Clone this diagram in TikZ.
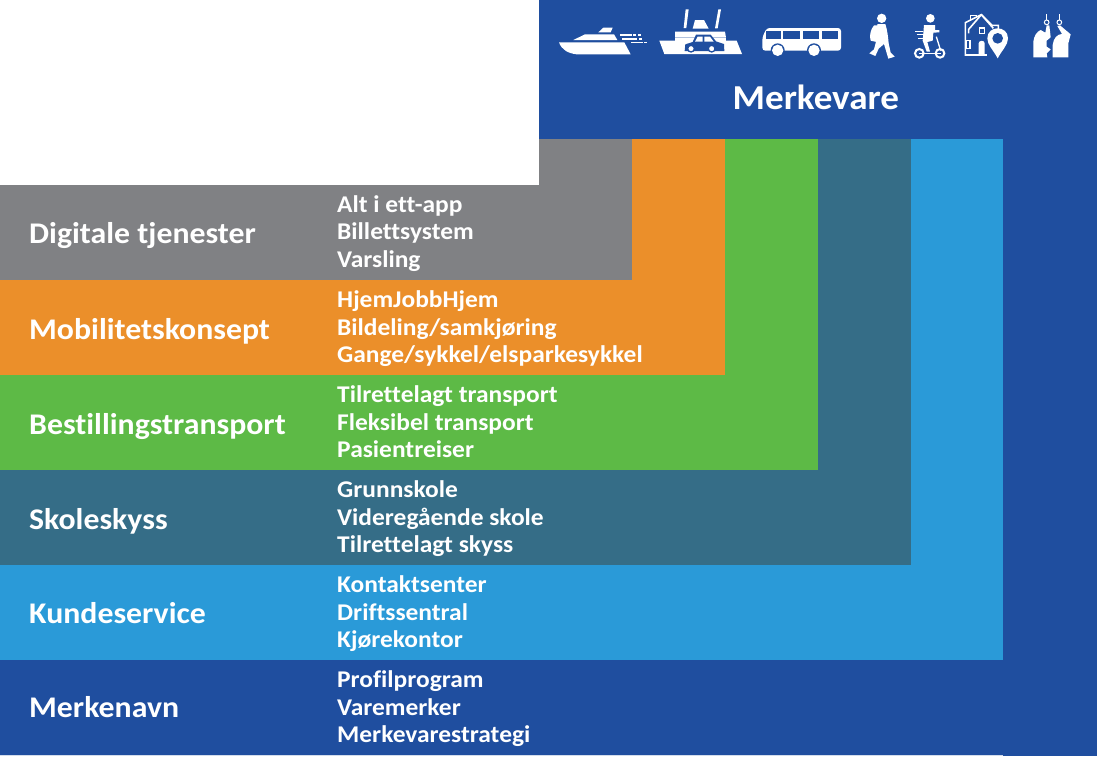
\documentclass[tikz,border=0pt]{standalone}
\usepackage{fontspec}
\setmainfont{Carlito}[Ligatures=NoCommon,FakeStretch=1.06]
\definecolor{navy}{HTML}{1F4E9F}
\definecolor{lblue}{HTML}{2A9AD8}
\definecolor{teal2}{HTML}{356D87}
\definecolor{green2}{HTML}{5DBA46}
\definecolor{orange2}{HTML}{EB8F2A}
\definecolor{gray2}{HTML}{808184}
\tikzset{
  title/.style={text=white,anchor=base west,inner sep=0,yshift=-0.7pt,font=\fontsize{30}{30}\selectfont\bfseries},
  item/.style={text=white,anchor=base west,inner sep=0,yshift=-0.7pt,font=\fontsize{24}{24}\selectfont\bfseries},
  ic/.style={fill=white,draw=none},
  il/.style={draw=white,fill=none},
  cut/.style={fill=navy,draw=none}
}
\begin{document}
\begin{tikzpicture}[x=1pt,y=-1pt]
\useasboundingbox (0,0) rectangle (1097,756);
\fill[navy] (539,0) rectangle (1097,756);
\fill[navy] (0,660) rectangle (1097,755);
\fill[lblue] (539,139) rectangle (1003,660);
\fill[lblue] (0,565) rectangle (1003,660);
\fill[teal2] (539,139) rectangle (911,565);
\fill[teal2] (0,470) rectangle (911,565);
\fill[green2] (539,139) rectangle (818,470);
\fill[green2] (0,375) rectangle (818,470);
\fill[orange2] (539,139) rectangle (725,375);
\fill[orange2] (0,280) rectangle (725,375);
\fill[gray2] (539,139) rectangle (632,280);
\fill[gray2] (0,185) rectangle (632,280);
\fill[white!80!navy] (0,755) rectangle (1003,756);

% boat, ferry, bus: typed in coordinates of the 3x crop at x=540
\begin{scope}[shift={(540,0)},scale=1/3]
\fill[ic] (57,127) -- (253,127) -- (272,163) -- (110,163) .. controls (85,160) and (65,150) .. cycle;
\fill[ic] (100,120) -- (135,103) -- (222,103) -- (232,120) -- cycle;
\fill[ic] (175,97) -- (190,83) -- (218,83) -- (212,97) -- cycle;
\foreach \a/\b/\c in {240/275/105,280/288/105,293/302/105,245/290/117,296/306/117,272/308/128,312/322/128}
  \fill[ic] (\a,\c-2) rectangle (\b,\c+2);
% ferry
\fill[ic] (437,28) -- (446,28) -- (439,84) -- (431,84) -- cycle;
\fill[ic] (535,28) -- (543,28) -- (533,85) -- (525,85) -- cycle;
\fill[ic] (465,60) -- (492,60) -- (506,86) -- (458,86) -- cycle;
\fill[ic] (405,95) -- (555,95) -- (558,113) -- (405,113) -- cycle;
\fill[ic] (358,122) -- (590,122) -- (606,162) -- (373,162) -- cycle;
\fill[ic] (405,113) rectangle (558,122);
\fill[cut] (434,153) -- (436,133) -- (458,126) -- (468,104) -- (512,104) -- (528,124) -- (552,132) -- (553,153) -- cycle;
\fill[ic] (473,110) -- (488,110) -- (488,125) -- (465,125) -- cycle;
\fill[ic] (493,110) -- (510,110) -- (521,125) -- (493,125) -- cycle;
\fill[ic,draw=navy,line width=1.3pt] (453,146) circle (10);
\fill[ic,draw=navy,line width=1.3pt] (515,146) circle (10);
% bus
\fill[ic,rounded corners=3pt] (667,152) -- (667,112) -- (680,84) -- (903,84) -- (903,152) -- cycle;
\fill[cut] (678,92) rectangle (722,117);
\fill[cut] (730,92) rectangle (780,117);
\fill[cut] (788,92) rectangle (838,117);
\fill[cut] (846,92) rectangle (893,117);
\fill[cut] (713,151) circle (21);
\fill[cut] (822,151) circle (21);
\fill[ic] (713,151) circle (17);
\fill[ic] (822,151) circle (17);
\end{scope}

% walker, scooter, house, people: crop at x=820
\begin{scope}[shift={(820,0)},scale=1/3]
\fill[ic] (185,55) circle (14);
\fill[ic] (162,76) .. controls (150,90) and (148,110) .. (152,122) -- (170,126) -- (172,76) -- cycle;
\fill[ic] (172,72) -- (196,72) .. controls (202,90) and (204,110) .. (206,130) -- (212,158) -- (224,170) -- (205,176) -- (192,132) -- (176,146) -- (166,168) -- (148,160) -- (162,148) -- (168,125) -- cycle;
% scooter
\fill[ic] (331,55) circle (13);
\fill[ic] (312,75) -- (345,75) -- (345,90) -- (358,90) -- (358,97) -- (340,98) -- (338,122) -- (322,126) -- (330,155) -- (320,155) -- (308,122) -- cycle;
\draw[il,line width=1pt] (285,94) -- (310,94) (290,104) -- (310,104) (295,114) -- (310,114);
\draw[il,line width=1.3pt] (349,110) -- (362,152);
\draw[il,line width=1.5pt] (298,160) -- (362,160);
\draw[il,line width=2pt] (298,160) circle (13);
\draw[il,line width=2pt] (360,160) circle (13);
% house
\draw[il,line width=1.6pt,line join=miter] (520,165) -- (436,165) -- (436,68) -- (484,44) -- (516,76) -- (535,76) -- (535,95);
\draw[il,line width=1.6pt] (452,60) -- (452,46) -- (470,46) -- (470,52);
\draw[il,line width=1.6pt] (484,44) -- (446,88) -- (446,100);
\draw[il,line width=1.6pt] (484,44) -- (520,85);
\draw[il,line width=1.6pt] (478,84) rectangle (494,100);
\draw[il,line width=1.6pt] (438,122) rectangle (450,145);
\fill[ic] (476,165) -- (476,130) .. controls (476,120) and (494,120) .. (494,130) -- (494,165) -- cycle;
\fill[cut] (500,90) rectangle (570,180);
\fill[ic] (533,175) .. controls (520,150) and (502,135) .. (502,115) .. controls (502,75) and (564,75) .. (564,115) .. controls (564,135) and (546,150) .. cycle;
\fill[cut] (533,115) circle (16);
% people
\draw[il,line width=1pt] (680,43) -- (680,60) (718,43) -- (718,60);
\draw[il,line width=1pt] (680,67) circle (7) (718,67) circle (7);
\fill[ic] (640,172) -- (640,125) .. controls (642,108) and (650,95) .. (662,90) -- (676,98) -- (680,76) -- (688,76) -- (692,112) -- (680,122) -- (680,140) -- (692,148) -- (680,160) -- (682,172) -- cycle;
\fill[ic] (698,172) -- (698,135) .. controls (700,115) and (712,102) .. (726,102) -- (712,78) -- (720,76) -- (752,103) -- (745,130) -- (745,172) -- cycle;
\end{scope}

\node[text=white,anchor=base west,inner sep=0,font=\fontsize{35}{35}\selectfont\bfseries] (brand) at (732.5,109) {Merkevare};

\node[title] (t1) at (29,243) {Digitale tjenester};
\node[title] (t2) at (29,339) {Mobilitetskonsept};
\node[title] (t3) at (29,434) {Bestillingstransport};
\node[title] (t4) at (29,529) {Skoleskyss};
\node[title] (t5) at (29,623) {Kundeservice};
\node[title] (t6) at (29,717) {Merkenavn};

\node[item] (a1) at (337,212) {Alt i ett-app};
\node[item] (a2) at (337,239) {Billettsystem};
\node[item] (a3) at (337,267) {Varsling};
\node[item] (b1) at (337,307) {HjemJobbHjem};
\node[item] (b2) at (337,335) {Bildeling/samkjøring};
\node[item] (b3) at (337,362) {Gange/sykkel/elsparkesykkel};
\node[item] (c1) at (337,402) {Tilrettelagt transport};
\node[item] (c2) at (337,430) {Fleksibel transport};
\node[item] (c3) at (337,457) {Pasientreiser};
\node[item] (d1) at (337,497) {Grunnskole};
\node[item] (d2) at (337,525) {Videregående skole};
\node[item] (d3) at (337,552) {Tilrettelagt skyss};
\node[item] (e1) at (337,592) {Kontaktsenter};
\node[item] (e2) at (337,620) {Driftssentral};
\node[item] (e3) at (337,647) {Kjørekontor};
\node[item] (f1) at (337,687) {Profilprogram};
\node[item] (f2) at (337,715) {Varemerker};
\node[item] (f3) at (337,742) {Merkevarestrategi};
\end{tikzpicture}
\end{document}
